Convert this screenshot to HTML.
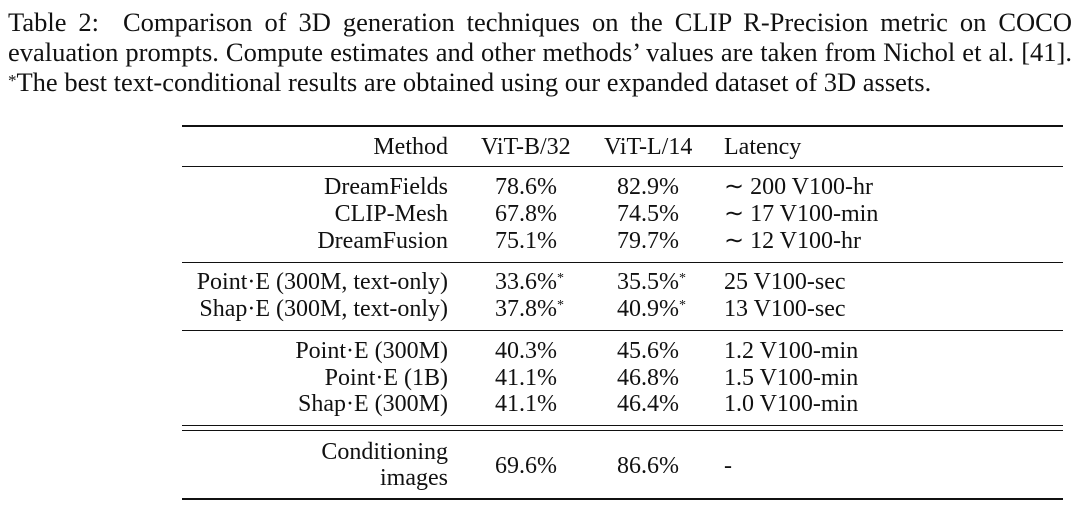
<!DOCTYPE html>
<html><head><meta charset="utf-8"><style>
body{margin:0;width:1080px;height:505px;background:#fff;position:relative;overflow:hidden;font-family:"Liberation Serif",serif;color:#111}
.cap{position:absolute;left:8px;width:1064px;font-size:26.5px;line-height:30px;white-space:nowrap}
.j{text-align:justify;text-align-last:justify;white-space:normal}
.t{position:absolute;font-size:24px;line-height:26px;white-space:nowrap}
.r{text-align:right;width:300px}
.rule{position:absolute;left:182px;width:881px;background:#111}
sup{font-size:14px;vertical-align:top;position:relative;top:-3px}
</style></head><body>
<div class="cap j" style="top:7px">Table 2:&nbsp; Comparison of 3D generation techniques on the CLIP R-Precision metric on COCO</div>
<div class="cap j" style="top:37px">evaluation prompts. Compute estimates and other methods’ values are taken from Nichol et al. [41].</div>
<div class="cap" style="top:67px"><sup style="font-size:17px;top:-1px">*</sup>The best text-conditional results are obtained using our expanded dataset of 3D assets.</div>

<div class="rule" style="top:125px;height:2px"></div>
<div class="rule" style="top:166px;height:1px"></div>
<div class="rule" style="top:262px;height:1px"></div>
<div class="rule" style="top:330px;height:1px"></div>
<div class="rule" style="top:425px;height:1px"></div>
<div class="rule" style="top:430px;height:1px"></div>
<div class="rule" style="top:498px;height:2px"></div>

<div id="tbl"></div>
<script>
const rows=[
["Method","ViT-B/32","ViT-L/14","Latency",147,true],
["DreamFields","78.6%","82.9%","∼ 200 V100-hr",187],
["CLIP-Mesh","67.8%","74.5%","∼ 17 V100-min",214],
["DreamFusion","75.1%","79.7%","∼ 12 V100-hr",241],
["Point·E (300M, text-only)","33.6%*","35.5%*","25 V100-sec",282],
["Shap·E (300M, text-only)","37.8%*","40.9%*","13 V100-sec",309],
["Point·E (300M)","40.3%","45.6%","1.2 V100-min",351],
["Point·E (1B)","41.1%","46.8%","1.5 V100-min",378],
["Shap·E (300M)","41.1%","46.4%","1.0 V100-min",404],
["Conditioning<br>images","69.6%","86.6%","-",466]
];
const tbl=document.getElementById('tbl');
function fmt(s){return s.replace('*','<sup>*</sup>');}
rows.forEach((r,i)=>{
  const y=r[4];
  const m=document.createElement('div');m.className='t r';
  
  
  m.style.left='148px';
  if(r[0].includes('<br>')){m.style.top=(y-27)+'px';}else m.style.top=(y-13)+'px';
  m.innerHTML=r[0];tbl.appendChild(m);
  const xs=i==0?[481,604,724]:[495,617,724];
  [1,2,3].forEach(k=>{
    const c=document.createElement('div');c.className='t';
    
    
    c.style.left=xs[k-1]+'px';c.style.top=(y-13)+'px';
    c.innerHTML=fmt(r[k]);tbl.appendChild(c);
  });
});
</script>
</body></html>
